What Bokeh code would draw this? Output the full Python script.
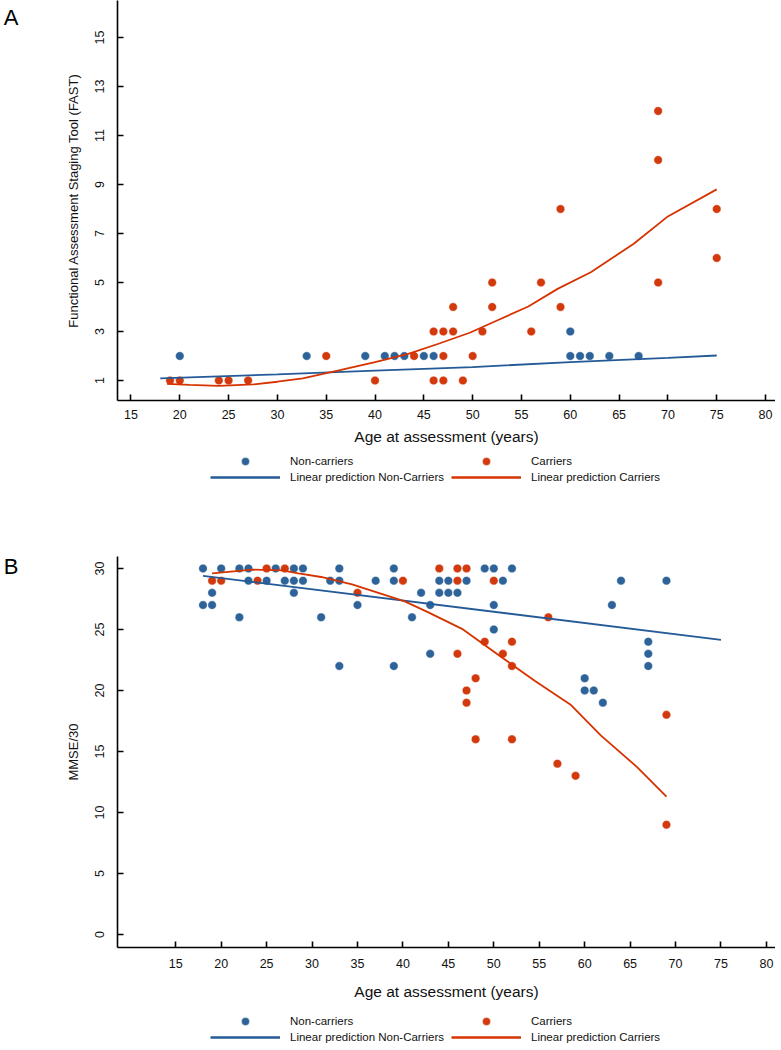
from bokeh.plotting import figure
from bokeh.models import (Legend, LegendItem, FixedTicker, LinearAxis, Range1d,
                          CustomJSTickFormatter)
from bokeh.layouts import column
from bokeh.embed import file_html
from bokeh.resources import INLINE

# ---------------- Panel A: FAST ----------------
fast_nc_age = [20, 33, 39, 41, 42, 43, 45, 46, 60, 60, 61, 62, 64, 67]
fast_nc_val = [2, 2, 2, 2, 2, 2, 2, 2, 3, 2, 2, 2, 2, 2]

fast_c_age = [19, 20, 24, 25, 27, 35, 40, 44, 46, 46, 47, 47, 47, 48, 48, 49, 50,
              51, 52, 52, 56, 57, 59, 59, 69, 69, 69, 75, 75]
fast_c_val = [1, 1, 1, 1, 1, 2, 1, 2, 3, 1, 3, 2, 1, 3, 4, 1, 2,
              3, 4, 5, 3, 5, 8, 4, 12, 10, 5, 8, 6]

fast_nc_fit_age = [18, 30, 40, 50, 60, 70, 75]
fast_nc_fit_val = [1.09, 1.25, 1.40, 1.55, 1.75, 1.92, 2.02]

fast_c_fit_age = [18.7, 21, 24, 27.5, 30, 32.6, 36.3, 40, 43.4, 46.5, 49.7, 52.5,
                  55.7, 58.7, 62.1, 66.5, 69.9, 75]
fast_c_fit_val = [0.86, 0.82, 0.78, 0.84, 0.95, 1.09, 1.41, 1.75, 2.09, 2.5, 2.95, 3.45,
                  4.02, 4.74, 5.42, 6.58, 7.67, 8.8]

fast_ticks = [1, 3, 5, 7, 9, 11, 13, 15]

# ---------------- Panel B: MMSE ----------------
mmse_nc_age = [18, 18, 19, 19, 20, 22, 22, 23, 23, 25, 26, 27, 28, 28, 28, 29, 29,
               31, 32, 33, 33, 33, 35, 37, 39, 39, 39, 41, 42, 43, 43, 44, 44, 45, 45,
               46, 47, 49, 50, 50, 50, 51, 52, 60, 60, 61, 62, 63, 64, 67, 67, 67, 69]
mmse_nc_val = [30, 27, 28, 27, 30, 30, 26, 30, 29, 29, 30, 29, 30, 29, 28, 30, 29,
               26, 29, 30, 29, 22, 27, 29, 30, 29, 22, 26, 28, 27, 23, 29, 28, 29, 28,
               28, 29, 30, 30, 27, 25, 29, 30, 21, 20, 20, 19, 27, 29, 24, 23, 22, 29]

mmse_c_age = [19, 20, 24, 25, 27, 35, 40, 44, 46, 46, 46, 47, 47, 47, 48, 48, 49,
              50, 51, 52, 52, 52, 56, 57, 59, 69, 69]
mmse_c_val = [29, 29, 29, 30, 30, 28, 29, 30, 30, 29, 23, 30, 20, 19, 21, 16, 24,
              29, 23, 24, 22, 16, 26, 14, 13, 18, 9]

mmse_nc_fit_age = [18, 75]
mmse_nc_fit_val = [29.4, 24.15]

mmse_c_fit_age = [19, 23.4, 26.7, 28.5, 31, 34.4, 40.2, 42.8, 46.5, 50.9, 54.5,
                  58.5, 61.8, 65.8, 69]
mmse_c_fit_val = [29.6, 29.9, 29.84, 29.6, 29.3, 28.7, 27.3, 26.4, 25.05, 22.7, 20.8,
                  18.8, 16.3, 13.7, 11.3]

mmse_ticks = [0, 5, 10, 15, 20, 25, 30]

age_ticks = [15, 20, 25, 30, 35, 40, 45, 50, 55, 60, 65, 70, 75, 80]

legend_labels = ["Non-carriers", "Carriers",
                 "Linear prediction Non-Carriers", "Linear prediction Carriers"]
panel_letters = ["A", "B"]

BLUE = "#2d6399"
RED = "#d2390c"
BLUE_LINE = "#235a97"
RED_LINE = "#d63300"
FONT = "Liberation Sans"
W = 775


def style(p, yticks, ylabel, tick_standoff_x, tick_standoff_y, title_standoff_x, title_standoff_y):
    p.grid.visible = False
    p.outline_line_color = None
    p.background_fill_color = "white"
    p.border_fill_color = "white"
    for ax in (p.xaxis[0], p.yaxis[0]):
        ax.axis_line_color = "black"
        ax.axis_line_width = 1.6
        ax.major_tick_line_color = "black"
        ax.major_tick_line_width = 1.6
        ax.major_tick_in = 6
        ax.major_tick_out = 0
        ax.minor_tick_line_color = None
        ax.major_label_text_font = FONT
        ax.major_label_text_font_size = "12.5px"
        ax.major_label_text_color = "#111111"
        ax.axis_label_text_font = FONT
        ax.axis_label_text_font_style = "normal"
        ax.axis_label_text_color = "#111111"
    p.xaxis[0].ticker = FixedTicker(ticks=age_ticks)
    p.xaxis[0].axis_label = "Age at assessment (years)"
    p.xaxis[0].axis_label_text_font_size = "15.5px"
    p.xaxis[0].major_label_standoff = tick_standoff_x
    p.xaxis[0].axis_label_standoff = title_standoff_x
    p.yaxis[0].ticker = FixedTicker(ticks=yticks)
    p.yaxis[0].axis_label = ylabel
    p.yaxis[0].axis_label_text_font_size = "13px"
    p.yaxis[0].major_label_orientation = "vertical"
    p.yaxis[0].major_label_standoff = tick_standoff_y
    p.yaxis[0].axis_label_standoff = title_standoff_y


def add_letter(p, letter, frame_h, y_from_top, standoff):
    # panel letter drawn as the single label of an extra, invisible left axis
    p.extra_y_ranges = {"lab": Range1d(0, frame_h)}
    ax = LinearAxis(y_range_name="lab",
                    ticker=FixedTicker(ticks=[frame_h - y_from_top]),
                    formatter=CustomJSTickFormatter(code="return '%s';" % letter),
                    axis_line_color=None, major_tick_line_color=None,
                    minor_tick_line_color=None,
                    major_label_text_font=FONT, major_label_text_font_size="22px",
                    major_label_text_color="black",
                    major_label_standoff=standoff)
    p.add_layout(ax, "left")


def legend_fig(series, height, vx, vy1, vy2):
    # legend-only figure; its renderers reuse the panel's data, which lies
    # outside this figure's (0..1) view, so only the legend shows
    f = figure(width=W, height=height, x_range=Range1d(0, 1), y_range=Range1d(0, 1),
               x_axis_type=None, y_axis_type=None, output_backend="svg",
               toolbar_location=None, min_border=0)
    f.grid.visible = False
    f.outline_line_color = None
    (nc_x, nc_y, c_x, c_y, nfx, nfy, cfx, cfy) = series
    r1 = f.scatter(nc_x, nc_y, size=8.5, fill_color=BLUE, line_color="white", line_width=0.4)
    r2 = f.scatter(c_x, c_y, size=8.5, fill_color=RED, line_color="white", line_width=0.4)
    r3 = f.line(nfx, nfy, line_color=BLUE_LINE, line_width=2.4)
    r4 = f.line(cfx, cfy, line_color=RED_LINE, line_width=2.4)
    rends = [r1, r2, r3, r4]
    for k, vy in enumerate((vy1, vy2)):
        items = [LegendItem(label=legend_labels[2 * k + j], renderers=[rends[2 * k + j]])
                 for j in range(2)]
        lg = Legend(items=items, orientation="horizontal",
                    location=(vx, vy), glyph_width=70, glyph_height=20,
                    label_height=20, label_standoff=10, label_width=161,
                    spacing=0, padding=0, margin=0,
                    label_text_font=FONT, label_text_font_size="11.5px",
                    label_text_color="#111111",
                    border_line_color=None, background_fill_alpha=0)
        f.add_layout(lg)
    return f


# Panel A figure: frame y 0..400
pA = figure(width=W, height=447, x_range=(13.62, 81.02), y_range=(0.184, 16.51),
            output_backend="svg", toolbar_location=None,
            min_border_left=114, min_border_right=0, min_border_top=0,
            min_border_bottom=47)
style(pA, fast_ticks, "Functional Assessment Staging Tool (FAST)", 9, 13, 6, 12)
pA.scatter(fast_nc_age, fast_nc_val, size=8.5, fill_color=BLUE, line_color="white", line_width=0.4)
pA.scatter(fast_c_age, fast_c_val, size=8.5, fill_color=RED, line_color="white", line_width=0.4)
pA.line(fast_nc_fit_age, fast_nc_fit_val, line_color=BLUE_LINE, line_width=1.8)
pA.line(fast_c_fit_age, fast_c_fit_val, line_color=RED_LINE, line_width=1.8)
add_letter(pA, panel_letters[0], 400, 17, 38)

legA = legend_fig((fast_nc_age, fast_nc_val, fast_c_age, fast_c_val,
                   fast_nc_fit_age, fast_nc_fit_val, fast_c_fit_age, fast_c_fit_val),
                  53, 93, 29, 13)

# Panel B figure: frame y 556..947 (fig starts at 500)
pB = figure(width=W, height=502, x_range=(8.59, 81.0), y_range=(-1.07, 30.98),
            output_backend="svg", toolbar_location=None,
            min_border_left=114, min_border_right=0, min_border_top=56,
            min_border_bottom=55)
style(pB, mmse_ticks, "MMSE/30", 11, 13, 12, 12)
pB.scatter(mmse_nc_age, mmse_nc_val, size=8.5, fill_color=BLUE, line_color="white", line_width=0.4)
pB.scatter(mmse_c_age, mmse_c_val, size=8.5, fill_color=RED, line_color="white", line_width=0.4)
pB.line(mmse_nc_fit_age, mmse_nc_fit_val, line_color=BLUE_LINE, line_width=1.8)
pB.line(mmse_c_fit_age, mmse_c_fit_val, line_color=RED_LINE, line_width=1.8)
add_letter(pB, panel_letters[1], 391, 10, 38)

legB = legend_fig((mmse_nc_age, mmse_nc_val, mmse_c_age, mmse_c_val,
                   mmse_nc_fit_age, mmse_nc_fit_val, mmse_c_fit_age, mmse_c_fit_val),
                  46, 93, 17, 1)

layout = column(pA, legA, pB, legB, spacing=0)
open("out.html", "w").write(file_html(layout, INLINE))
